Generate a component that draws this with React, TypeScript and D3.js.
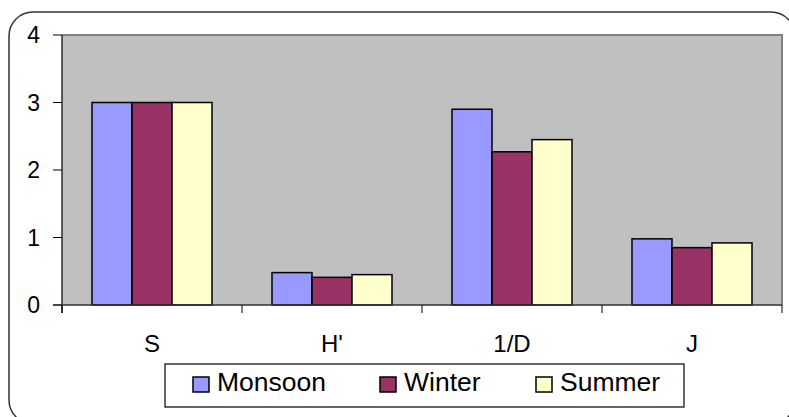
import * as d3 from "d3";

const CATEGORIES = ["S", "H'", "1/D", "J"];
const SERIES = ["Monsoon", "Winter", "Summer"];
const MONSOON = [3.0, 0.48, 2.9, 0.98];
const WINTER = [3.0, 0.41, 2.27, 0.85];
const SUMMER = [3.0, 0.45, 2.45, 0.92];
const Y_TICKS = [0, 1, 2, 3, 4];
const COLORS = ["#9999FF", "#993366", "#FFFFCC"];

const W = 789;
const H = 417;
const FONT = "'Liberation Sans', Arial, sans-serif";

export default function App() {
  const plot = { left: 62, right: 782, top: 35, bottom: 305 };
  const values = [MONSOON, WINTER, SUMMER];

  const x0 = d3
    .scaleBand<string>()
    .domain(CATEGORIES)
    .range([plot.left, plot.right])
    .paddingInner(0)
    .paddingOuter(0);

  const x1 = d3
    .scaleBand<string>()
    .domain(SERIES)
    .range([0, x0.bandwidth()])
    .paddingOuter(0.75)
    .paddingInner(0);

  const y = d3.scaleLinear().domain([0, 4]).range([plot.bottom, plot.top]);
  const color = d3.scaleOrdinal<string, string>().domain(SERIES).range(COLORS);

  // legend item start positions
  const legendX = d3.scaleOrdinal<string, number>().domain(SERIES).range([193, 380, 536]);

  const boundaries = [...CATEGORIES.map((c) => x0(c) ?? 0), plot.right];

  return (
    <svg
      width={W}
      height={H}
      style={{ position: "absolute", left: 0, top: 0, background: "#fff" }}
      fontFamily={FONT}
    >
      <rect x={9} y={12} width={786} height={412} rx={24} fill="#fff" stroke="#333" strokeWidth={1.5} />

      <rect
        x={plot.left}
        y={plot.top}
        width={plot.right - plot.left}
        height={plot.bottom - plot.top}
        fill="#C0C0C0"
      />
      <path
        d={`M${plot.left},${plot.top}H${plot.right}V${plot.bottom}`}
        fill="none"
        stroke="#808080"
        strokeWidth={2}
      />

      {SERIES.map((s, si) =>
        CATEGORIES.map((c, ci) => {
          const v = values[si][ci];
          return (
            <rect
              key={s + c}
              x={(x0(c) ?? 0) + (x1(s) ?? 0)}
              y={y(v)}
              width={x1.bandwidth()}
              height={y(0) - y(v)}
              fill={color(s)}
              stroke="#000"
              strokeWidth={1.5}
            />
          );
        })
      )}

      {/* y axis */}
      <line x1={plot.left} x2={plot.left} y1={plot.top} y2={plot.bottom + 8} stroke="#000" strokeWidth={1.2} />
      {Y_TICKS.map((t) => (
        <g key={t}>
          <line x1={plot.left - 9} x2={plot.left} y1={y(t)} y2={y(t)} stroke="#000" strokeWidth={1} />
          <text x={40} y={y(t)} dy="0.36em" textAnchor="end" fontSize={23}>
            {t}
          </text>
        </g>
      ))}

      {/* x axis */}
      <line x1={plot.left - 9} x2={plot.right} y1={plot.bottom} y2={plot.bottom} stroke="#333" strokeWidth={1.5} />
      {boundaries.map((bx, i) => (
        <line key={i} x1={bx} x2={bx} y1={plot.bottom} y2={plot.bottom + 8} stroke="#000" strokeWidth={1} />
      ))}
      {CATEGORIES.map((c) => (
        <text key={c} x={(x0(c) ?? 0) + x0.bandwidth() / 2} y={352} textAnchor="middle" fontSize={24}>
          {c}
        </text>
      ))}

      {/* legend */}
      <rect x={165} y={364} width={519} height={43} fill="#fff" stroke="#000" strokeWidth={1.2} />
      {SERIES.map((s) => (
        <g key={s}>
          <rect x={legendX(s)} y={377} width={16} height={15} fill={color(s)} stroke="#000" strokeWidth={1.5} />
          <text x={legendX(s) + 24} y={391} fontSize={26.5}>
            {s}
          </text>
        </g>
      ))}
    </svg>
  );
}
